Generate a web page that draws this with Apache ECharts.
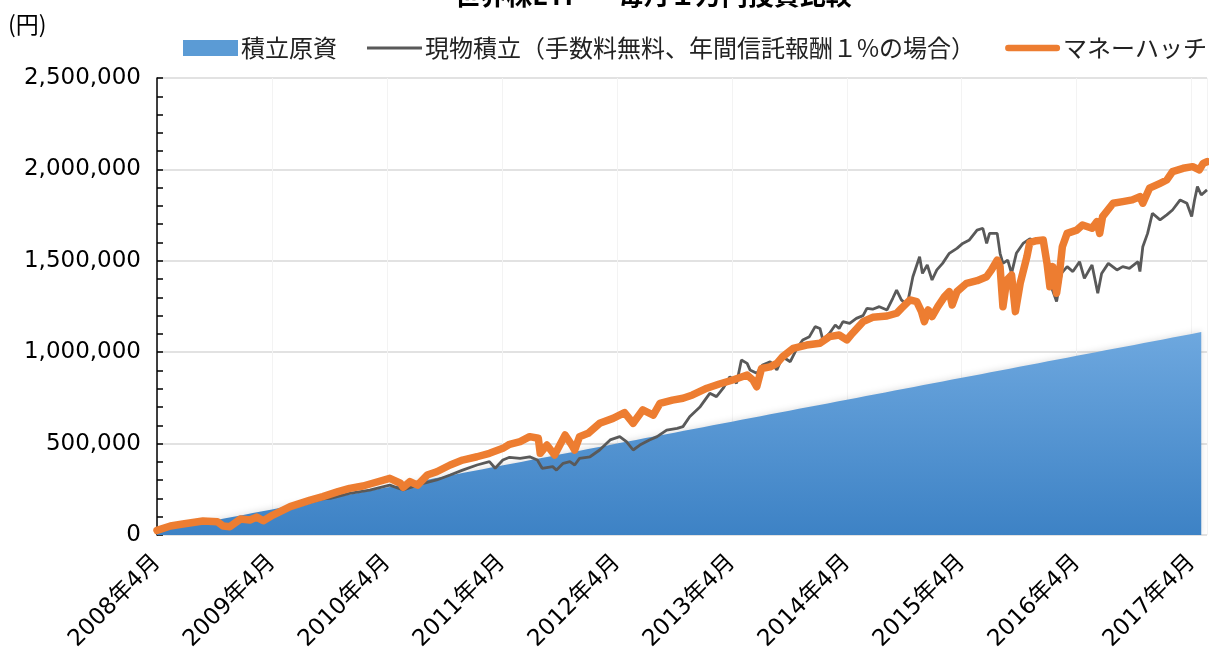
<!DOCTYPE html>
<html>
<head>
<meta charset="utf-8">
<script src="https://cdn.jsdelivr.net/npm/echarts@6/dist/echarts.min.js"></script>
<style>
  html, body { margin: 0; padding: 0; background: #fff; }
  #container { width: 1209px; height: 649px; }
</style>
</head>
<body>
<div id="container"></div>
<script>
var seriesNames = ['積立原資', '現物積立（手数料無料、年間信託報酬１%の場合）', 'マネーハッチ'];

// 積立原資 (円), one value per month from 2008年4月
var principal = [
    30000, 40000, 50000, 60000, 70000, 80000, 90000, 100000, 110000, 120000,
    130000, 140000, 150000, 160000, 170000, 180000, 190000, 200000, 210000, 220000,
    230000, 240000, 250000, 260000, 270000, 280000, 290000, 300000, 310000, 320000,
    330000, 340000, 350000, 360000, 370000, 380000, 390000, 400000, 410000, 420000,
    430000, 440000, 450000, 460000, 470000, 480000, 490000, 500000, 510000, 520000,
    530000, 540000, 550000, 560000, 570000, 580000, 590000, 600000, 610000, 620000,
    630000, 640000, 650000, 660000, 670000, 680000, 690000, 700000, 710000, 720000,
    730000, 740000, 750000, 760000, 770000, 780000, 790000, 800000, 810000, 820000,
    830000, 840000, 850000, 860000, 870000, 880000, 890000, 900000, 910000, 920000,
    930000, 940000, 950000, 960000, 970000, 980000, 990000, 1000000, 1010000, 1020000,
    1030000, 1040000, 1050000, 1060000, 1070000, 1080000, 1090000, 1100000, 1110000, 1120000
];

// 現物積立 (months since 2008年4月, 円)
var spotMonths = [
    0, 1.4, 2.7, 4.8, 6.3, 6.9, 7.6, 8.7, 9.7, 10.4, 11.1, 12.1, 13.9, 16.0, 17.3, 18.1,
    20.1, 22.2, 24.3, 25.7, 27.8, 29.2, 30.6, 31.9, 33.4, 34.7, 35.3, 36.1, 36.8, 37.9,
    38.9, 39.7, 40.2, 41.3, 41.7, 42.4, 43.1, 43.6, 44.1, 45.2, 46.2, 47.3, 48.3, 49.0,
    49.7, 50.4, 51.4, 52.2, 53.2, 54.3, 54.9, 55.6, 56.7, 57.7, 58.4, 59.1, 59.8, 60.5,
    61.0, 61.6, 61.9, 62.6, 63.2, 64.0, 64.7, 65.3, 66.1, 66.8, 67.4, 68.1, 68.7, 69.2,
    69.5, 70.2, 70.8, 71.2, 71.6, 72.3, 73.0, 73.7, 74.1, 74.7, 75.4, 76.2, 76.8, 77.2,
    77.7, 78.3, 78.9, 79.6, 79.9, 80.4, 80.9, 81.4, 82.0, 82.7, 83.5, 84.1, 84.8, 85.6,
    86.2, 86.6, 86.9, 87.7, 88.0, 88.3, 88.8, 89.2, 89.7, 90.4, 91.1, 91.8, 92.5, 93.2,
    93.9, 94.4, 95.0, 95.6, 96.3, 96.8, 97.6, 98.2, 98.6, 99.3, 100.2, 100.8, 101.5, 102.4,
    102.6, 102.9, 103.4, 103.9, 104.7, 105.4, 106.0, 106.8, 107.5, 108.0, 108.3, 108.6, 109.0, 109.6
];
var spotValues = [
    20000, 44000, 55000, 72000, 68000, 45000, 40000, 80000, 76000, 90000, 72000, 100000, 145000, 180000, 198000, 200000,
    228000, 246000, 273000, 246000, 283000, 301000, 328000, 355000, 383000, 401000, 365000, 410000, 425000, 419000,
    428000, 410000, 365000, 374000, 355000, 392000, 401000, 383000, 419000, 428000, 465000, 520000, 538000, 511000,
    465000, 492000, 520000, 538000, 574000, 583000, 593000, 647000, 702000, 775000, 757000, 803000, 866000, 830000,
    957000, 939000, 903000, 885000, 930000, 948000, 903000, 975000, 948000, 1021000, 1067000, 1085000, 1140000, 1130000,
    1067000, 1104000, 1149000, 1130000, 1167000, 1158000, 1185000, 1200000, 1240000, 1235000, 1249000, 1231000, 1295000, 1340000,
    1286000, 1258000, 1413000, 1522000, 1431000, 1477000, 1395000, 1450000, 1486000, 1541000, 1568000, 1595000, 1614000, 1668000,
    1678000, 1595000, 1650000, 1650000, 1541000, 1486000, 1504000, 1431000, 1541000, 1595000, 1620000, 1605000, 1600000, 1380000,
    1277000, 1431000, 1468000, 1441000, 1495000, 1404000, 1477000, 1322000, 1431000, 1486000, 1450000, 1468000, 1459000, 1495000,
    1441000, 1577000, 1650000, 1760000, 1724000, 1751000, 1778000, 1833000, 1815000, 1742000, 1833000, 1906000, 1860000, 1888000
];

// マネーハッチ (months since 2008年4月, 円)
var hatchMonths = [
    0, 1.4, 2.7, 4.8, 6.3, 6.9, 7.6, 8.7, 9.7, 10.4, 11.1, 12.1, 13.9, 16.0, 17.3, 18.9,
    20.1, 21.5, 22.5, 24.3, 25.4, 25.7, 26.4, 27.2, 28.2, 29.2, 30.6, 31.9, 33.4, 34.7,
    36.1, 36.8, 37.9, 38.9, 39.8, 40.0, 40.7, 41.5, 42.6, 43.3, 43.6, 44.1, 45.0, 46.2,
    47.6, 48.8, 49.7, 50.7, 51.8, 52.5, 53.8, 54.9, 55.9, 57.4, 58.7, 60.1, 61.6, 62.2,
    62.6, 63.1, 64.0, 64.7, 65.3, 66.4, 67.8, 69.2, 70.2, 71.2, 72.0, 72.6, 73.7, 74.7,
    76.2, 77.2, 77.7, 78.6, 79.3, 79.8, 80.1, 80.5, 80.9, 81.5, 82.2, 82.7, 83.0, 83.5,
    84.5, 85.6, 86.6, 87.1, 87.7, 88.0, 88.3, 88.7, 89.2, 89.6, 90.1, 90.8, 91.1, 91.8,
    92.5, 92.9, 93.2, 93.5, 93.9, 94.2, 94.5, 95.0, 96.0, 96.6, 97.6, 98.1, 98.4, 98.7,
    99.8, 100.8, 101.8, 102.6, 102.9, 103.6, 104.7, 105.4, 106.0, 107.1, 108.1, 108.8, 109.2, 109.6
];
var hatchValues = [
    25000, 49000, 60000, 77000, 73000, 49000, 45000, 87000, 82000, 98000, 78000, 109000, 155000, 191000, 210000, 237000,
    255000, 268000, 283000, 310000, 283000, 261000, 292000, 273000, 328000, 346000, 383000, 410000, 428000, 447000,
    474000, 496000, 511000, 538000, 529000, 447000, 492000, 438000, 547000, 492000, 465000, 538000, 556000, 611000,
    638000, 669000, 611000, 684000, 656000, 720000, 738000, 748000, 766000, 803000, 826000, 848000, 875000, 848000,
    811000, 911000, 920000, 939000, 975000, 1021000, 1039000, 1049000, 1085000, 1094000, 1067000, 1104000, 1167000, 1191000,
    1198000, 1213000, 1240000, 1286000, 1277000, 1222000, 1167000, 1231000, 1195000, 1249000, 1304000, 1331000, 1258000, 1331000,
    1377000, 1391000, 1413000, 1450000, 1504000, 1468000, 1249000, 1395000, 1422000, 1222000, 1377000, 1522000, 1600000, 1610000,
    1614000, 1486000, 1358000, 1468000, 1322000, 1431000, 1577000, 1650000, 1668000, 1696000, 1678000, 1714000, 1650000, 1742000,
    1815000, 1824000, 1833000, 1851000, 1815000, 1897000, 1924000, 1942000, 1988000, 2006000, 2015000, 1997000, 2033000, 2042000
];

var startYear = 2008;
var startMonth = 4;
var lastMonth = 109.6;

function monthLabel(m) {
    if (m % 12 !== 0) return '';
    var total = startMonth - 1 + m;
    return (startYear + Math.floor(total / 12)) + '年' + (total % 12 + 1) + '月';
}

function pairs(xs, ys) {
    return xs.map(function (x, i) { return [x, ys[i]]; });
}

var myChart = echarts.init(document.getElementById('container'));

var option = {
    animation: false,
    backgroundColor: '#fff',
    textStyle: { fontFamily: '"Noto Sans CJK JP", "DejaVu Sans", sans-serif' },
    title: {
        text: '世界株ETF ー 毎月１万円投資比較',
        left: 648,
        textAlign: 'center',
        top: -23,
        textStyle: { fontSize: 26, fontWeight: 'bold', color: '#000' }
    },
    legend: {
        left: 183,
        top: 36,
        width: 1300,
        padding: 0,
        itemGap: 30,
        itemWidth: 55,
        itemHeight: 16,
        symbolKeepAspect: true,
        textStyle: { fontSize: 24, color: '#222', padding: [0, 0, 0, -2] },
        data: [
            { name: seriesNames[0], icon: 'rect' },
            { name: seriesNames[1], icon: 'path://M0,0H55V3H0Z' },
            { name: seriesNames[2], icon: 'path://M3,0H55A3,3 0 0 1 55,7H3A3,3 0 0 1 3,0Z' }
        ]
    },
    grid: { left: 157, right: 2, top: 78, bottom: 114, containLabel: false, outerBoundsMode: 'none' },
    xAxis: {
        type: 'value',
        min: 0,
        max: lastMonth,
        interval: 12,
        axisLine: { show: false },
        axisTick: { show: false },
        splitLine: { show: true, lineStyle: { color: '#f3f3f3', width: 1 } },
        axisLabel: {
            rotate: 45,
            margin: 24,
            fontSize: 23,
            color: '#000',
            fontFamily: '"DejaVu Sans", "Noto Sans CJK JP", sans-serif',
            showMaxLabel: false,
            formatter: monthLabel
        }
    },
    yAxis: {
        type: 'value',
        min: 0,
        max: 2500000,
        interval: 500000,
        name: '(円)',
        nameLocation: 'end',
        nameGap: 0,
        nameTextStyle: { fontSize: 23, color: '#000', align: 'left', padding: [0, 0, 42, -149] },
        axisLine: { show: true, lineStyle: { color: '#000', width: 1.5 } },
        axisTick: { show: true, inside: true, length: 6, lineStyle: { color: '#000', width: 1.5 } },
        minorTick: { show: true, splitNumber: 5, length: 6, lineStyle: { color: '#000', width: 1.5 } },
        splitLine: { show: true, lineStyle: { color: '#d9d9d9', width: 1.5 } },
        axisLabel: {
            fontSize: 23,
            color: '#000',
            margin: 16,
            fontFamily: '"DejaVu Sans", sans-serif',
            formatter: function (v) { return v.toLocaleString('en-US'); }
        }
    },
    series: [
        {
            name: seriesNames[0],
            type: 'line',
            step: 'end',
            symbol: 'none',
            data: principal.map(function (v, i) { return [i, v]; }),
            lineStyle: { width: 0, color: '#5b9bd5' },
            itemStyle: { color: '#5b9bd5' },
            areaStyle: {
                opacity: 1,
                color: new echarts.graphic.LinearGradient(0, 0, 0, 1, [
                    { offset: 0, color: '#6ea8df' },
                    { offset: 1, color: '#3d82c5' }
                ]),
                shadowBlur: 6,
                shadowColor: 'rgba(0,0,0,0.12)',
                shadowOffsetY: -1
            },
            z: 1
        },
        {
            name: seriesNames[1],
            type: 'line',
            symbol: 'none',
            data: pairs(spotMonths, spotValues),
            lineStyle: { width: 2.8, color: '#595959' },
            itemStyle: { color: '#595959' },
            z: 2
        },
        {
            name: seriesNames[2],
            type: 'line',
            symbol: 'none',
            data: pairs(hatchMonths, hatchValues),
            lineStyle: { width: 7.5, color: '#ed7d31', join: 'round', cap: 'round' },
            itemStyle: { color: '#ed7d31' },
            z: 3
        }
    ]
};

myChart.setOption(option);
</script>
</body>
</html>
